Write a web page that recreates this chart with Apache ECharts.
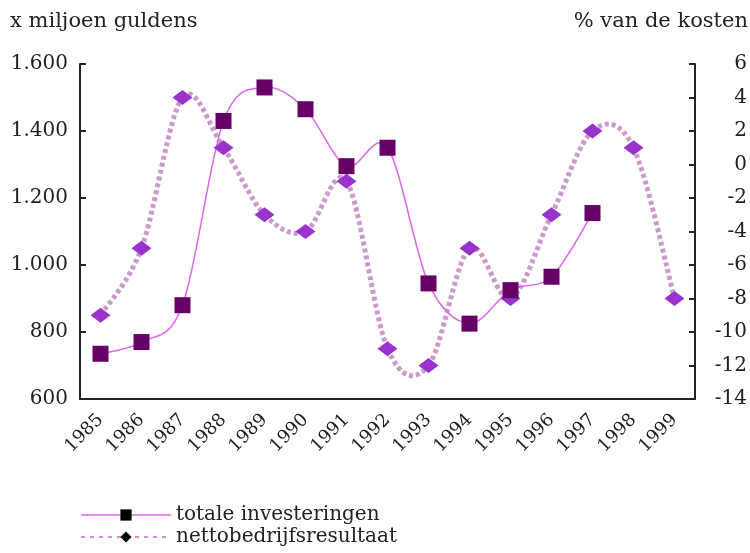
<!DOCTYPE html>
<html>
<head>
<meta charset="utf-8">
<script src="https://cdn.jsdelivr.net/npm/echarts@6/dist/echarts.min.js"></script>
<style>
	html, body { margin: 0; padding: 0; background: #fff; }
	#chart_1 { width: 750px; height: 553px; }
</style>
</head>
<body>
<div id="chart_1"></div>
<script>
var years = ['1985', '1986', '1987', '1988', '1989', '1990', '1991', '1992', '1993', '1994', '1995', '1996', '1997', '1998', '1999'];
// x miljoen guldens
var investeringen = [735, 770, 880, 1430, 1530, 1465, 1295, 1350, 945, 825, 925, 965, 1155, null, null];
// % van de kosten
var nettoResultaat = [-9, -5, 4, 1, -3, -4, -1, -11, -12, -5, -8, -3, 2, 1, -8];
var seriesNames = ['totale investeringen', 'nettobedrijfsresultaat'];

(function() {
	var myChart = echarts.init(document.getElementById('chart_1'));
	var serif = 'DejaVu Serif';

	// smooth curve segment i -> i+1 (catmull-rom like, as in the original spreadsheet chart)
	function curveItem(values, lineStyle) {
		return function(params, api) {
			var i = params.dataIndex;
			if (values[i] == null || values[i + 1] == null) return null;
			var pt = function(k) {
				return api.coord([k, values[k]]);
			};
			var p1 = pt(i), p2 = pt(i + 1);
			var p0 = (i > 0 && values[i - 1] != null) ? pt(i - 1) : p1;
			var p3 = (i + 2 < values.length && values[i + 2] != null) ? pt(i + 2) : p2;
			return {
				type: 'bezierCurve',
				shape: {
					x1: p1[0], y1: p1[1],
					x2: p2[0], y2: p2[1],
					cpx1: p1[0] + (p2[0] - p0[0]) / 6, cpy1: p1[1] + (p2[1] - p0[1]) / 6,
					cpx2: p2[0] - (p3[0] - p1[0]) / 6, cpy2: p2[1] - (p3[1] - p1[1]) / 6
				},
				style: lineStyle,
				silent: true
			};
		};
	}

	var option = {
		backgroundColor: '#fff',
		animation: false,
		textStyle: { fontFamily: serif, color: '#000' },
		graphic: [{
			type: 'text', left: 10, top: 11,
			style: { text: 'x miljoen guldens', font: '21px "DejaVu Serif"', fill: '#222' }
		}, {
			type: 'text', right: 2, top: 11,
			style: { text: '% van de kosten', font: '21px "DejaVu Serif"', fill: '#222' }
		}],
		grid: { left: 80, right: 50, top: 64, bottom: 154 },
		legend: {
			orient: 'vertical',
			left: 75,
			top: 500,
			itemWidth: 90,
			itemHeight: 14,
			itemGap: 2,
			textStyle: { fontFamily: serif, fontSize: 20, color: '#222' },
			data: [{
				name: seriesNames[0],
				itemStyle: { color: '#000' },
				lineStyle: { color: '#dd66ee', width: 1.5, type: 'solid' }
			}, {
				name: seriesNames[1],
				itemStyle: { color: '#000' },
				lineStyle: { color: '#dd88dd', width: 2, type: [4, 5] }
			}]
		},
		xAxis: {
			type: 'category',
			data: years,
			axisLine: { onZero: false, lineStyle: { color: '#222', width: 2 } },
			axisTick: { show: false },
			axisLabel: { rotate: 45, margin: 18, fontFamily: serif, fontSize: 18, color: '#222' }
		},
		yAxis: [{
			type: 'value',
			min: 600, max: 1600, interval: 200,
			splitLine: { show: false },
			axisLine: { show: true, lineStyle: { color: '#222', width: 2 } },
			axisTick: { show: true, inside: true, length: 6, lineStyle: { color: '#222', width: 2 } },
			axisLabel: {
				margin: 12, fontFamily: serif, fontSize: 20, color: '#222',
				formatter: function(v) {
					return String(v).replace(/\B(?=(\d{3})+(?!\d))/g, '.');
				}
			}
		}, {
			type: 'value',
			min: -14, max: 6, interval: 2,
			splitLine: { show: false },
			axisLine: { show: true, lineStyle: { color: '#222', width: 2 } },
			axisTick: { show: true, inside: true, length: 6, lineStyle: { color: '#222', width: 2 } },
			axisLabel: { margin: 52, align: 'right', fontFamily: serif, fontSize: 20, color: '#222' }
		}],
		series: [{
			name: 'curve_netto',
			type: 'custom',
			yAxisIndex: 1,
			z: 1,
			data: nettoResultaat.map(function(v, i) { return [i, v]; }),
			renderItem: curveItem(nettoResultaat, { stroke: '#cc99cc', lineWidth: 5, lineDash: [4, 3], fill: null })
		}, {
			name: 'curve_invest',
			type: 'custom',
			z: 1,
			data: investeringen.map(function(v, i) { return [i, v == null ? 600 : v]; }),
			renderItem: curveItem(investeringen, { stroke: '#dd66ee', lineWidth: 1.5, fill: null })
		}, {
			name: seriesNames[1],
			type: 'line',
			yAxisIndex: 1,
			z: 3,
			data: nettoResultaat,
			symbol: 'diamond',
			symbolSize: [20, 15],
			itemStyle: { color: '#9933cc' },
			lineStyle: { width: 0 }
		}, {
			name: seriesNames[0],
			type: 'line',
			z: 4,
			data: investeringen,
			symbol: 'rect',
			symbolSize: 16,
			itemStyle: { color: '#660066' },
			lineStyle: { width: 0 }
		}]
	};
	myChart.setOption(option);
})();
</script>
</body>
</html>
